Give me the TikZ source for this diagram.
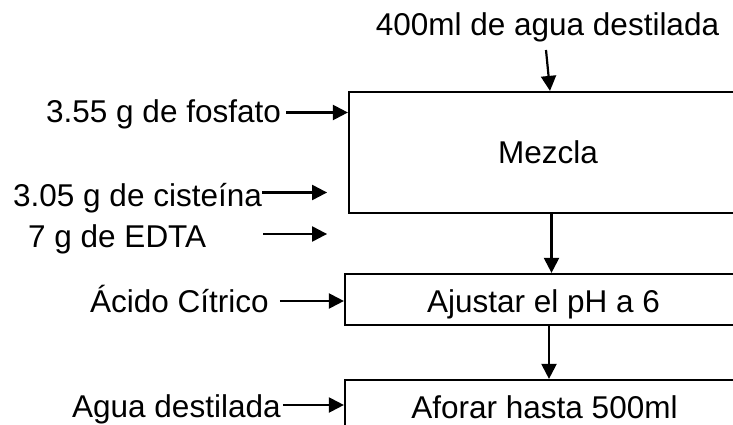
\documentclass[tikz,border=0pt]{standalone}
\usepackage{fontspec}
\setmainfont{Liberation Sans}
\usetikzlibrary{arrows.meta}
\tikzset{
  txt/.style={inner sep=0pt, font=\fontsize{31.5}{38}\selectfont},
  box/.style={draw, line width=2.2pt, rectangle, inner sep=0pt},
  arr/.style={line width=2.2pt, -{Triangle[length=15pt,width=15pt]}}
}
\begin{document}
\begin{tikzpicture}[x=1pt,y=-1pt]
\useasboundingbox (0,0) rectangle (733,425);
\clip (0,0) rectangle (733,425);
\fill[white] (0,0) rectangle (733,425);

% boxes
\node[box, minimum width=398pt, minimum height=121pt] (mez) at (548,152.5) {};
\node[box, minimum width=397pt, minimum height=51pt] (aju) at (543.5,299.5) {};
\node[box, minimum width=399pt, minimum height=54pt] (afo) at (544.5,407) {};

% box texts
\node[txt, anchor=base] (mezT) at (548,163) {Mezcla};
\node[txt, anchor=base] (ajuT) at (543.5,312) {Ajustar el pH a 6};
\node[txt, anchor=base] (afoT) at (544.5,418) {Aforar hasta 500ml};

% input texts
\node[txt, anchor=base] (agua400) at (547.5,36) {400ml de agua destilada};
\node[txt, anchor=base west] (fos) at (46,122) {3.55 g de fosfato};
\node[txt, anchor=base west] (cis) at (13,206) {3.05 g de cisteína};
\node[txt, anchor=base west] (edta) at (28,247) {7 g de EDTA};
\node[txt, anchor=base west] (acido) at (90,312) {Ácido Cítrico};
\node[txt, anchor=base west] (agua) at (72,417) {Agua destilada};

% arrow start points
\path (agua400.base) ++(-1.5,14) coordinate (topS);
\path (fos.base east) ++(5,-9.5) coordinate (fosS);
\path (cis.base east) ++(0,-13.5) coordinate (cisS);
\path (edta.base east) ++(57,-13) coordinate (edtaS);
\path (acido.base east) ++(11,-11) coordinate (acidoS);
\path (agua.base east) ++(2,-12) coordinate (aguaS);
\path (mez.south) ++(3.5,0) coordinate (mezS);
\path (aju.south) ++(5.5,0) coordinate (ajuS);

% arrows
\draw[arr] (topS) -- ([xshift=2pt]mez.north);
\draw[arr] (fosS) -- (fosS -| mez.west);
\draw[arr] (cisS) -- ++(65,0) coordinate (cisE);
\draw[arr] (edtaS) -- (edtaS -| cisE);
\draw[arr] (acidoS) -- (acidoS -| aju.west);
\draw[arr] (aguaS) -- (aguaS -| afo.west);
\draw[arr] (mezS) -- (mezS |- aju.north);
\draw[arr] (ajuS) -- (ajuS |- afo.north);
\end{tikzpicture}
\end{document}
